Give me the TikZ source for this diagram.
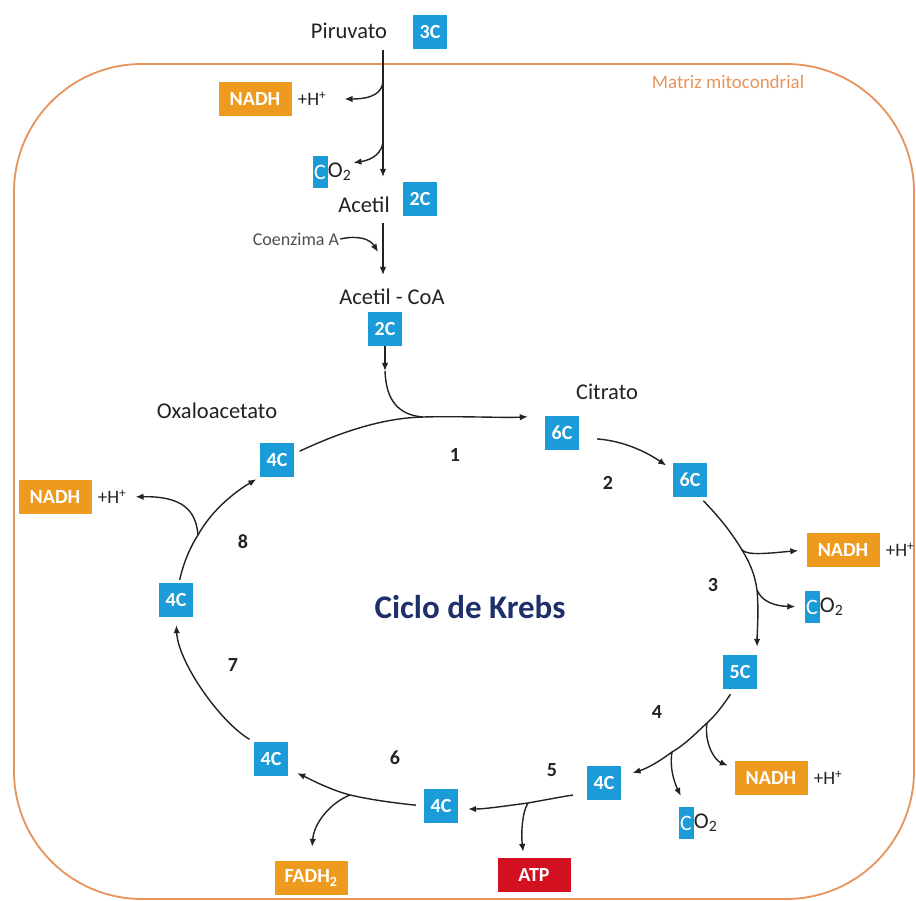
\documentclass[tikz,border=0pt]{standalone}
\usepackage{fontspec}
\setmainfont{Carlito}
\usetikzlibrary{arrows.meta}
\usetikzlibrary{positioning}
\definecolor{cblue}{HTML}{1B9BD7}
\definecolor{corange}{HTML}{EE9A1F}
\definecolor{cred}{HTML}{D2101F}
\definecolor{cframe}{HTML}{E6935C}
\definecolor{cnavy}{HTML}{1F2F6A}
\definecolor{ctext}{HTML}{222222}
\tikzset{carbon/.style = {fill=cblue, text=white, font=\fontsize{20}{24}\selectfont\bfseries, minimum width=34, minimum height=34, inner sep=0}}
\tikzset{ccut/.style = {fill=cblue, text=white, font=\fontsize{22}{26}\selectfont, minimum width=15, minimum height=32, inner sep=0}}
\tikzset{nadh/.style = {fill=corange, text=white, font=\fontsize{20}{24}\selectfont\bfseries, minimum width=73, minimum height=34, inner sep=0}}
\tikzset{atpbox/.style = {nadh, fill=cred}}
\tikzset{lbl/.style = {text=ctext, font=\fontsize{22.5}{27}\selectfont, inner sep=1}}
\tikzset{hplus/.style = {text=ctext, font=\fontsize{19}{23}\selectfont, inner sep=1}}
\tikzset{stepnum/.style = {text=ctext, font=\fontsize{20}{24}\selectfont\bfseries}}
\tikzset{flow/.style = {draw=ctext, line width=1.4, -{Latex[length=8pt,width=6.5pt]}}}
\tikzset{link/.style = {draw=ctext, line width=1.4}}

\begin{document}
\begin{tikzpicture}[x=1pt, y=-1pt]
  \useasboundingbox (0,0) rectangle (916,901);
  % matriz
  \draw [cframe, line width=1.8, rounded corners=128] (14,64) rectangle (914,899);
  \node [text=cframe, font=\fontsize{19}{23}\selectfont] (matriz) at (728,82) {Matriz mitocondrial};

  % piruvato -> acetil-CoA
  \node [lbl] (piru) at (349,31) {Piruvato};
  \node [carbon] (c3) at (430,32) {3C};
  \node [nadh] (nadh1) at (255,99) {NADH};
  \node [hplus, right=5pt of nadh1] (hp1) {+H\textsuperscript{+}};
  \node [ccut] (co2a) at (320,172) {C};
  \node [lbl, right=0pt of co2a, inner sep=0] (o2a) {O\textsubscript{2}};
  \node [lbl] (acetil) at (364,205) {Acetil};
  \node [carbon] (c2a) at (420,199) {2C};
  \node [text=ctext!80, font=\fontsize{18}{22}\selectfont, inner sep=1] (coenz) at (296,239) {Coenzima A};
  \node [lbl] (acoa) at (392,297) {Acetil - CoA};
  \node [carbon] (c2b) at (385,329) {2C};

  \coordinate (v0) at (383,50);
  \coordinate (v1) at (383,80);
  \coordinate (v2) at (383,140);
  \coordinate (v3) at (383,177);
  \draw [flow] (v0) -- (v3);
  \draw [flow, shorten >=17pt] (v1) .. controls (383,93) and (372,99) .. (hp1.east);
  \draw [flow, shorten >=2pt] (v2) .. controls (383,153) and (372,160) .. (o2a.north east);
  \coordinate (v4) at (383,223);
  \coordinate (v5) at (383,275);
  \draw [flow] (v4) -- (v5);
  \coordinate (ca) at (378,252);
  \draw [flow] (coenz.east) .. controls (358,235) and (370,239) .. (ca);

  % ciclo
  \node [lbl] (oxa) at (217,411) {Oxaloacetato};
  \node [lbl] (citr) at (607,392) {Citrato};
  \node [carbon] (c6a) at (562,433) {6C};
  \node [carbon] (c6b) at (690,480) {6C};
  \node [carbon] (c5) at (740,672) {5C};
  \node [carbon] (c4a) at (604,783) {4C};
  \node [carbon] (c4b) at (441,806) {4C};
  \node [carbon] (c4c) at (271,759) {4C};
  \node [carbon] (c4d) at (176,600) {4C};
  \node [carbon] (c4e) at (277,460) {4C};
  \node [text=cnavy, font=\fontsize{33}{40}\selectfont\bfseries] (krebs) at (470,607) {Ciclo de Krebs};

  \foreach \n/\x/\y in {1/455/455, 2/608/483, 3/713/585, 4/657/712, 5/552/770, 6/395/758, 7/233/665, 8/243/542} {
    \node [stepnum] (s\n) at (\x,\y) {\n};
  }

  % productos
  \node [nadh] (nadh2) at (843,550) {NADH};
  \node [hplus, right=5pt of nadh2] (hp2) {+H\textsuperscript{+}};
  \node [ccut] (co2b) at (812,607) {C};
  \node [lbl, right=0pt of co2b, inner sep=0] (o2b) {O\textsubscript{2}};
  \node [nadh] (nadh3) at (771,778) {NADH};
  \node [hplus, right=5pt of nadh3] (hp3) {+H\textsuperscript{+}};
  \node [ccut] (co2c) at (686,823) {C};
  \node [lbl, right=0pt of co2c, inner sep=0] (o2c) {O\textsubscript{2}};
  \node [atpbox] (atp) at (534,875) {ATP};
  \node [nadh] (fadh) at (311,878) {FADH\textsubscript{2}};
  \node [nadh] (nadh4) at (55,497) {NADH};
  \node [hplus, right=5pt of nadh4] (hp4) {+H\textsuperscript{+}};

  % 1
  \coordinate (k0) at (385,371);
  \draw [flow] (c2b) -- (k0);
  \coordinate (j1) at (423,417);
  \draw [link] (k0) .. controls (386,400) and (398,415) .. (j1);
  \draw [flow, shorten <=6pt, shorten >=17pt] (c4e.20) .. controls (345,430) and (385,418) .. (j1)
    .. controls (460,416) and (505,418) .. (c6a.north west);
  % 2
  \draw [flow, shorten <=18pt, shorten >=8pt] (c6a.-15) .. controls (625,441) and (648,453) .. (c6b.150);
  % 3
  \coordinate (j3a) at (742,550);
  \coordinate (j3b) at (757,590);
  \draw [flow, shorten <=5pt, shorten >=8pt] (c6b.-60) .. controls (722,520) and (733,535) .. (j3a)
    .. controls (750,563) and (755,575) .. (j3b) .. controls (759,610) and (757,635) .. (c5.north east);
  \draw [flow, shorten >=8pt] (j3a) .. controls (748,556) and (770,553) .. (nadh2.west);
  \draw [flow, shorten >=9pt] (j3b) .. controls (762,602) and (775,606) .. (co2b.west);
  % 4
  \coordinate (j4a) at (707,723);
  \coordinate (j4b) at (672,752);
  \draw [flow, shorten <=6pt, shorten >=12pt] (c5.-110) .. controls (724,704) and (716,715) .. (j4a)
    .. controls (697,732) and (686,744) .. (j4b) .. controls (660,761) and (648,768) .. (c4a.20);
  \draw [flow, shorten >=7pt] (j4a) .. controls (704,742) and (714,760) .. (nadh3.165);
  \draw [flow, shorten >=12pt] (j4b) .. controls (669,770) and (676,786) .. (co2c.north);
  % 5
  \coordinate (j5) at (528,803);
  \draw [flow, shorten <=14pt, shorten >=10pt] (c4a.-150) .. controls (560,797) and (545,800) .. (j5)
    .. controls (505,806) and (485,809) .. (c4b.-10);
  \draw [flow, shorten >=6pt] (j5) .. controls (522,812) and (521,835) .. ([xshift=-10pt]atp.north);
  % 6
  \coordinate (j6) at (350,795);
  \draw [flow, shorten <=8pt, shorten >=10pt] (c4b.west) .. controls (395,803) and (372,800) .. (j6)
    .. controls (328,789) and (312,780) .. (c4c.-30);
  \draw [flow, shorten >=14pt] (j6) .. controls (330,803) and (314,823) .. (fadh.north);
  % 7
  \draw [flow, shorten <=5pt, shorten >=8pt] (c4c.135) .. controls (220,722) and (178,662) .. (c4d.south);
  % 8
  \coordinate (j8) at (198,535);
  \draw [flow, shorten <=3pt, shorten >=4pt] (c4d.80) .. controls (183,565) and (189,549) .. (j8)
    .. controls (213,508) and (238,490) .. (c4e.south west);
  \draw [flow, shorten >=8pt] (j8) .. controls (196,510) and (182,496) .. (hp4.east);
\end{tikzpicture}
\end{document}
